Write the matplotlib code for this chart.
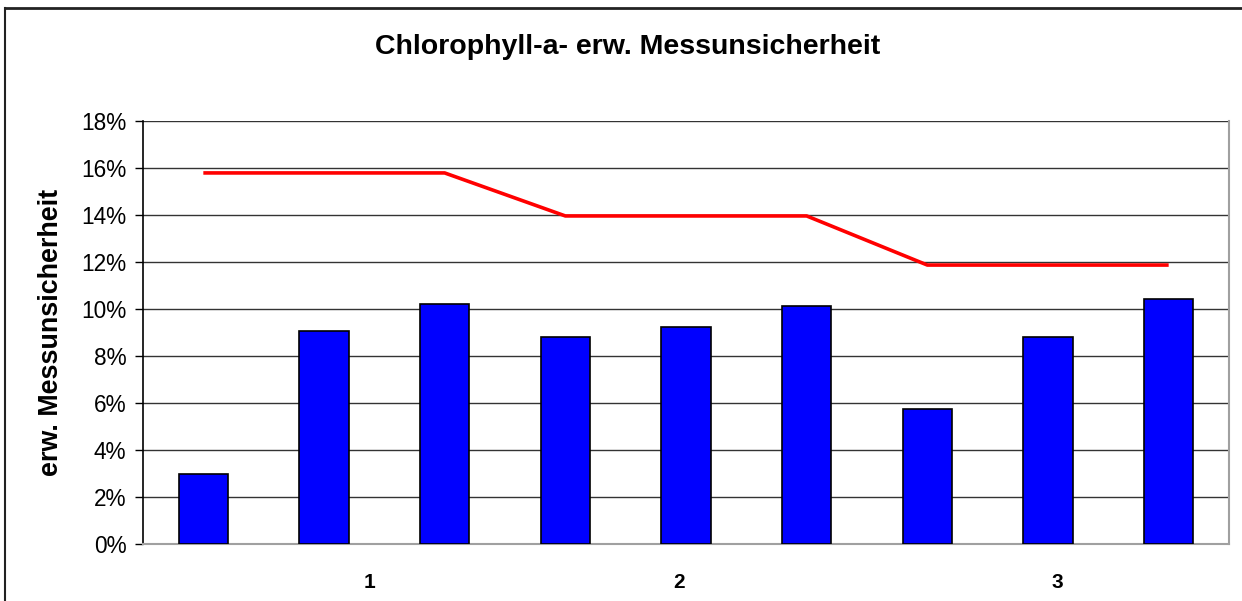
import matplotlib
matplotlib.use("Agg")
import matplotlib.pyplot as plt
from matplotlib.lines import Line2D
from matplotlib.ticker import FuncFormatter

plt.rcParams['font.family'] = ['Liberation Sans', 'DejaVu Sans']

# Messwerte (erw. Messunsicherheit in %)
messunsicherheit = [2.98, 9.06, 10.21, 8.81, 9.23, 10.13, 5.74, 8.81, 10.43]
# Grenzwert je Probe
grenzwert = [15.79, 15.79, 15.79, 13.96, 13.96, 13.96, 11.87, 11.87, 11.87]
# Gruppenbeschriftungen und ihre Lage auf der Kategorieachse
gruppen = ['1', '2', '3']
gruppen_pos = [1.38, 3.94, 7.08]

W, H = 1242, 601
fig = plt.figure(figsize=(W / 100, H / 100), dpi=100)
ax = fig.add_axes([143 / W, (H - 544) / H, (1229 - 143) / W, (544 - 121) / H])

x = list(range(len(messunsicherheit)))
ax.bar(x, messunsicherheit, width=0.41, color='#0000ff', edgecolor='black',
       linewidth=1.2, zorder=3)
ax.plot(x, grenzwert, color='#ff0000', lw=2.6, zorder=4, solid_capstyle='butt')

ax.set_xlim(-0.5, 8.5)
ax.set_ylim(0, 18)
ax.set_yticks(range(0, 19, 2))
ax.yaxis.set_major_formatter(FuncFormatter(lambda v, p: f"{v:.0f}%"))
ax.set_xticks(gruppen_pos)
ax.set_xticklabels(gruppen, fontsize=15, fontweight='bold')
ax.tick_params(axis='x', length=0, pad=21)
ax.tick_params(axis='y', length=6, width=1, color='black', labelsize=16.3, pad=6)

ax.grid(axis='y', color='#333333', lw=1, zorder=0)
ax.spines['top'].set_visible(False)
ax.spines['left'].set_color('black')
ax.spines['left'].set_linewidth(1.2)
ax.spines['bottom'].set_color('#a0a0a0')
ax.spines['bottom'].set_linewidth(1.5)
ax.spines['right'].set_color('#a0a0a0')
ax.spines['right'].set_linewidth(1.5)

ax.set_ylabel('erw. Messunsicherheit', fontsize=19.4, fontweight='bold', labelpad=12)
fig.text(628 / W, 1 - 47 / H, 'Chlorophyll-a- erw. Messunsicherheit',
         ha='center', va='center', fontsize=20.5, fontweight='bold')

# äußerer Rahmen (links und oben sichtbar)
fig.add_artist(Line2D([5 / W, 5 / W], [0, 1 - 8 / H], color='#222222', lw=1.5))
fig.add_artist(Line2D([5 / W, 1], [1 - 8 / H, 1 - 8 / H], color='#222222', lw=2))

fig.savefig('out.png', dpi=100)
